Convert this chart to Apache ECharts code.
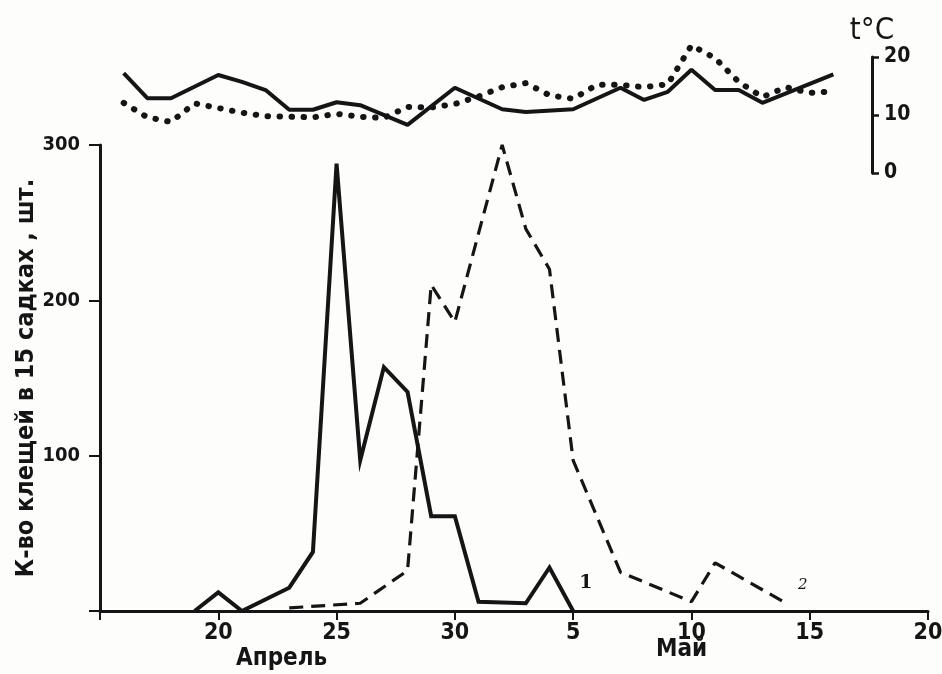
<!DOCTYPE html>
<html>
<head>
<meta charset="utf-8">
<script src="https://cdn.jsdelivr.net/npm/echarts@6/dist/echarts.min.js"></script>
<style>
  html, body { margin: 0; padding: 0; background: #fdfdfc; }
  #chart { width: 942px; height: 674px; }
</style>
</head>
<body>
<div id="chart"></div>
<script>
  // дни отсчитываются от 1 апреля: 31 = 1 мая
  const countDays1 = [19, 20, 21, 23, 24, 25, 26, 27, 28, 29, 30, 31, 33, 34, 35]
  const countVals1 = [0, 12, 0, 15, 38, 288, 97, 157, 141, 61, 61, 6, 5, 28, 0]
  const countDays2 = [23, 26, 28, 29, 30, 32, 33, 34, 35, 37, 40, 41, 44]
  const countVals2 = [2, 5, 26, 210, 186, 300, 246, 220, 97, 25, 6, 31, 5]

  // температура, сплошная и точечная линии
  const tempDays1 = [16, 17, 18, 20, 21, 22, 23, 24, 25, 26, 28, 30, 32, 33, 35, 37, 38, 39, 40, 41, 42, 43, 46]
  const tempSolid = [17.2, 12.9, 12.9, 16.9, 15.7, 14.3, 10.9, 10.9, 12.2, 11.7, 8.3, 14.7, 11, 10.5, 11, 14.7, 12.6, 14, 17.8, 14.3, 14.3, 12.1, 17]
  const tempDays2 = [16, 17, 18, 19, 20, 21, 22, 23, 24, 25, 26, 27, 28, 29, 30, 31, 32, 33, 34, 35, 36, 37, 38, 39, 40, 41, 42, 43, 44, 45, 46]
  const tempDotted = [12.1, 9.6, 8.8, 12, 11.2, 10.4, 9.8, 9.7, 9.6, 10.2, 9.7, 9.5, 11.4, 11.3, 11.9, 13.2, 14.8, 15.5, 13.4, 12.8, 15.2, 15.2, 14.8, 15.3, 22, 19.8, 15.7, 13.1, 14.8, 13.8, 14.1]

  const dayTicks = [20, 25, 30, 35, 40, 45, 50]
  const countTicks = [100, 200, 300]
  const tempTicks = [0, 10, 20]
  const monthNames = ['Апрель', 'Май']

  const ink = '#151515'
  const font = 'DejaVu Sans Condensed'

  const pairs = (xs, ys) => xs.map((x, i) => [x, ys[i]])

  const myChart = echarts.init(document.getElementById('chart'), null, { renderer: 'canvas' })

  const option = {
    backgroundColor: '#fdfdfc',
    animation: false,
    grid: [
      { left: 100, right: 14, top: 145, bottom: 63, outerBoundsMode: 'none' },
      { left: 100, right: 14, top: 57, bottom: 501, outerBoundsMode: 'none' },
    ],
    xAxis: [
      {
        type: 'value',
        min: 15,
        max: 50,
        interval: 5,
        axisLine: { lineStyle: { color: ink, width: 3 } },
        axisTick: { length: 9, lineStyle: { color: ink, width: 2 } },
        splitLine: { show: false },
        axisLabel: {
          customValues: dayTicks,
          color: ink,
          fontFamily: font,
          fontWeight: 'bold',
          fontSize: 23,
          margin: 11,
          formatter: (v) => (v > 30 ? String(v - 30) : String(v)),
        },
      },
      {
        type: 'value',
        gridIndex: 1,
        min: 15,
        max: 50,
        show: false,
      },
    ],
    yAxis: [
      {
        type: 'value',
        min: 0,
        max: 300,
        interval: 100,
        axisLine: { show: true, lineStyle: { color: ink, width: 3 } },
        axisTick: { show: true, length: 11, lineStyle: { color: ink, width: 2 } },
        splitLine: { show: false },
        axisLabel: {
          customValues: countTicks,
          color: ink,
          fontFamily: font,
          fontWeight: 'bold',
          fontSize: 20,
          margin: 20,
        },
        name: 'К-во клещей в 15 садках , шт.',
        nameLocation: 'middle',
        nameGap: 61,
        nameMoveOverlap: false,
        nameTextStyle: {
          color: ink,
          fontFamily: font,
          fontWeight: 'bold',
          fontSize: 25,
        },
      },
      {
        type: 'value',
        gridIndex: 1,
        position: 'right',
        offset: -56,
        min: 0,
        max: 20,
        interval: 10,
        axisLine: { show: true, lineStyle: { color: ink, width: 3 } },
        axisTick: { show: true, length: 7, lineStyle: { color: ink, width: 2.5 } },
        splitLine: { show: false },
        axisLabel: {
          customValues: tempTicks,
          color: ink,
          fontFamily: font,
          fontWeight: 'bold',
          fontSize: 21,
          margin: 12,
        },
        name: 't°C',
        nameLocation: 'end',
        nameGap: 8,
        nameTextStyle: {
          color: ink,
          fontFamily: font,
          fontSize: 31,
          align: 'center',
        },
      },
    ],
    series: [
      {
        type: 'line',
        data: pairs(countDays1, countVals1),
        symbol: 'none',
        lineStyle: { color: ink, width: 4, join: 'miter' },
        endLabel: {
          show: true,
          formatter: '1',
          offset: [-2, -28],
          color: ink,
          fontFamily: 'DejaVu Serif',
          fontWeight: 'bold',
          fontSize: 19,
        },
      },
      {
        type: 'line',
        data: pairs(countDays2, countVals2),
        symbol: 'none',
        lineStyle: { color: ink, width: 3.2, type: [14, 8] },
        endLabel: {
          show: true,
          formatter: '2',
          offset: [4, -18],
          color: ink,
          fontFamily: 'DejaVu Serif',
          fontStyle: 'italic',
          fontSize: 15,
        },
      },
      {
        type: 'line',
        xAxisIndex: 1,
        yAxisIndex: 1,
        clip: false,
        data: pairs(tempDays1, tempSolid),
        symbol: 'none',
        lineStyle: { color: ink, width: 4 },
      },
      {
        type: 'line',
        xAxisIndex: 1,
        yAxisIndex: 1,
        clip: false,
        data: pairs(tempDays2, tempDotted),
        symbol: 'none',
        lineStyle: { color: ink, width: 6, type: [0.5, 11.5], cap: 'round' },
      },
    ],
    graphic: [
      {
        type: 'text',
        left: 236,
        top: 647,
        style: { text: monthNames[0], fill: ink, font: 'bold 24px "' + font + '"' },
      },
      {
        type: 'text',
        left: 656,
        top: 638,
        style: { text: monthNames[1], fill: ink, font: 'bold 24px "' + font + '"' },
      },
    ],
  }

  myChart.setOption(option)
</script>
</body>
</html>
